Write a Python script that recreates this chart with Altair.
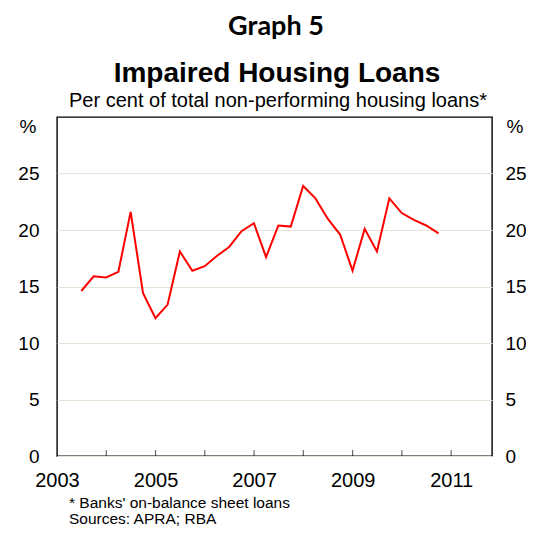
import altair as alt
import pandas as pd

# ---- data ----
quarters = [
    "2003-06-30", "2003-09-30", "2003-12-31", "2004-03-31",
    "2004-06-30", "2004-09-30", "2004-12-31", "2005-03-31",
    "2005-06-30", "2005-09-30", "2005-12-31", "2006-03-31",
    "2006-06-30", "2006-09-30", "2006-12-31", "2007-03-31",
    "2007-06-30", "2007-09-30", "2007-12-31", "2008-03-31",
    "2008-06-30", "2008-09-30", "2008-12-31", "2009-03-31",
    "2009-06-30", "2009-09-30", "2009-12-31", "2010-03-31",
    "2010-06-30", "2010-09-30",
]
impaired_share = [
    14.6, 15.9, 15.8, 16.3,
    21.6, 14.4, 12.2, 13.4,
    18.1, 16.4, 16.8, 17.7,
    18.5, 19.9, 20.6, 17.6,
    20.4, 20.3, 23.9, 22.8,
    21.0, 19.6, 16.4, 20.1,
    18.1, 22.8, 21.5, 20.9,
    20.4, 19.7,
]
tick_years = [2004, 2005, 2006, 2007, 2008, 2009, 2010, 2011]
label_years = [2003, 2005, 2007, 2009, 2011]
y_ticks = [0, 5, 10, 15, 20, 25]
graph_label = ["Graph 5"]
chart_title = ["Impaired Housing Loans"]
chart_subtitle = ["Per cent of total non-performing housing loans*"]
footnotes = ["* Banks' on-balance sheet loans", "Sources: APRA; RBA"]

W, H = 435, 339
FONT = "Liberation Sans"
GRID = "#e6e2d6"

df = pd.DataFrame({"date": quarters, "value": impaired_share})
ticks_df = pd.DataFrame({"tick": [f"{y}-01-01" for y in tick_years]})

x_scale = alt.Scale(
    type="utc",
    domain=[alt.DateTime(year=2003, month=1, date=1, utc=True),
            alt.DateTime(year=2011, month=10, date=31, utc=True)],
)
y_scale = alt.Scale(domain=[0, 30], nice=False)

x_axis = alt.Axis(
    values=[alt.DateTime(year=y, month=1, date=1, utc=True) for y in label_years],
    format="%Y", formatType="utc",
    ticks=False, domain=False, grid=False, labelFlush=False, labelOverlap=False,
    labelFontSize=20, labelPadding=14, labelFont=FONT, labelColor="black",
    title=None,
)

def y_axis(orient):
    left = orient == "left"
    return alt.Axis(
        orient=orient, values=y_ticks, grid=left, gridColor=GRID, gridWidth=1,
        ticks=False, domain=False, labelPadding=18 if left else 13,
        labelFontSize=19, labelFont=FONT, labelColor="black",
        title="%", titleAngle=0, titleX=-21 if left else 14, titleY=9,
        titleAlign="right" if left else "left", titleBaseline="middle",
        titleFontWeight="normal", titleFontSize=19, titleFont=FONT,
        titleColor="black",
    )

line = alt.Chart(df).mark_line(color="#ff0000", strokeWidth=2).encode(
    x=alt.X("date:T", scale=x_scale, axis=x_axis),
    y=alt.Y("value:Q", scale=y_scale, axis=y_axis("left")),
)
right = alt.Chart(df).mark_line(opacity=0).encode(
    x=alt.X("date:T"),
    y=alt.Y("value:Q", axis=y_axis("right")),
)
ticks = alt.Chart(ticks_df).mark_tick(
    color="black", orient="vertical", size=6, thickness=1
).encode(
    x=alt.X("tick:T"),
    y=alt.value(H - 3),
)

def text_layer(lines, x, y, size, weight="normal", font=FONT, align="center"):
    return alt.Chart(pd.DataFrame({"t": lines})).mark_text(
        font=font, fontSize=size, fontWeight=weight, align=align,
        baseline="middle", color="black",
    ).encode(text="t:N", x=alt.value(x), y=alt.value(y))

g5 = text_layer(graph_label, 219, -90, 27, weight="bold", font="Lato")
ttl = text_layer(chart_title, 220, -43, 28, weight="bold")
sub = text_layer(chart_subtitle, 221, -16, 20)
fn1 = text_layer(footnotes[:1], 12, 386, 15.5, align="left")
fn2 = text_layer(footnotes[1:], 12, 402, 15.5, align="left")

chart = alt.layer(line, right, ticks, g5, ttl, sub, fn1, fn2).resolve_axis(
    y="independent"
).properties(
    width=W, height=H,
    padding={"left": 49, "top": 109, "right": 34, "bottom": 72},
    autosize=alt.AutoSizeParams(type="none"),
    background="white",
).configure_view(stroke="black", strokeWidth=1.4)

chart.save("out.html", embed_options={"renderer": "svg", "actions": False})
